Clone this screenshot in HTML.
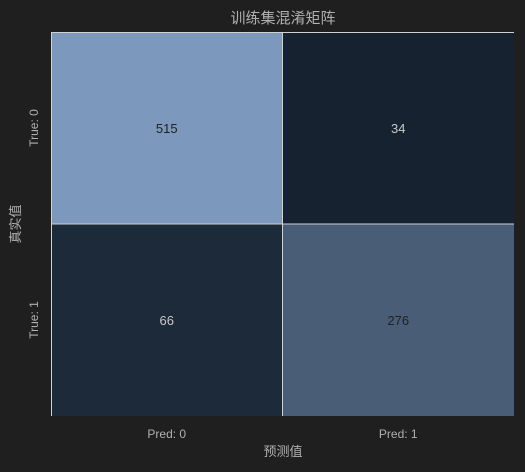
<!DOCTYPE html>
<html><head><meta charset="utf-8"><style>
html,body{margin:0;padding:0;background:#1f1f1f;}
svg text{font-family:"Liberation Sans","Noto Sans CJK SC",sans-serif;}
</style></head><body>
<svg id="chart" width="525" height="467" viewBox="0 0 525 467" xmlns="http://www.w3.org/2000/svg">
<rect width="525" height="467" fill="#1f1f1f"/>
<text x="283" y="23" text-anchor="middle" font-size="15" fill="#b0b0b0">训练集混淆矩阵</text>
<g id="cells"></g>
<text x="283" y="456" text-anchor="middle" font-size="13" fill="#b0b0b0">预测值</text>
<text transform="translate(20,224) rotate(-90)" text-anchor="middle" font-size="13" fill="#b0b0b0">真实值</text>
</svg>
<script>
const rowLabels = ["True: 0", "True: 1"];
const colLabels = ["Pred: 0", "Pred: 1"];
const values = [[515, 34], [66, 276]];

const PL = 51, PR = 514, PT = 32, PB = 416;
const svgEl = document.getElementById('chart');
const gEl = document.getElementById('cells');
const NS = 'http://www.w3.org/2000/svg';
const nr = values.length, nc = values[0].length;
const cw = (PR - PL) / nc, ch = (PB - PT) / nr;
const flat = values.flat();
const vmin = Math.min(...flat), vmax = Math.max(...flat);
const lo = [22, 34, 48], hi = [125, 152, 189];
function color(v){
  const t = (v - vmin) / (vmax - vmin || 1);
  const c = lo.map((a, i) => Math.round(a + (hi[i] - a) * t));
  return {fill: `rgb(${c.join(',')})`, t};
}
function mk(tag, attrs){const e = document.createElementNS(NS, tag); for (const k in attrs) e.setAttribute(k, attrs[k]); return e;}
values.forEach((row, r) => row.forEach((v, c) => {
  const {fill, t} = color(v);
  const rect = mk('rect', {x: PL + c*cw, y: PT + r*ch, width: cw, height: ch, fill});
  
  
  gEl.appendChild(rect);
  const tx = mk('text', {x: PL + (c+0.5)*cw, y: PT + (r+0.5)*ch + 5, 'text-anchor': 'middle', 'font-size': 13, fill: t > 0.4 ? '#222' : '#c8c8c8'});
  tx.textContent = v;
  
  
  gEl.appendChild(tx);
}));
for (let c = 1; c < nc; c++){
  const ln = mk('line', {x1: PL + c*cw, x2: PL + c*cw, y1: PT, y2: PB, stroke: '#d0d0d0', 'stroke-width': 1});
  
  
  gEl.appendChild(ln);
}
for (let r = 1; r < nr; r++){
  const ln = mk('line', {x1: PL, x2: PR, y1: PT + r*ch, y2: PT + r*ch, stroke: '#d0d0d0', 'stroke-width': 1});
  
  
  gEl.appendChild(ln);
}
const topSpine = mk('line', {x1: PL, x2: PR, y1: PT + 0.5, y2: PT + 0.5, stroke: '#d0d0d0', 'stroke-width': 1});


gEl.appendChild(topSpine);
const leftSpine = mk('line', {x1: PL + 0.5, x2: PL + 0.5, y1: PT, y2: PB, stroke: '#d0d0d0', 'stroke-width': 1});


gEl.appendChild(leftSpine);
colLabels.forEach((s, c) => {
  const tx = mk('text', {x: PL + (c+0.5)*cw, y: 438, 'text-anchor': 'middle', 'font-size': 12, fill: '#b0b0b0', 'font-family': '"Liberation Mono","Noto Sans CJK SC",monospace'});
  tx.textContent = s;
  
  
  svgEl.appendChild(tx);
});
rowLabels.forEach((s, r) => {
  const y = PT + (r+0.5)*ch;
  const tx = mk('text', {transform: `translate(38,${y}) rotate(-90)`, 'text-anchor': 'middle', 'font-size': 12, fill: '#b0b0b0', 'font-family': '"Liberation Mono","Noto Sans CJK SC",monospace'});
  tx.textContent = s;
  
  
  svgEl.appendChild(tx);
});
</script>
</body></html>
